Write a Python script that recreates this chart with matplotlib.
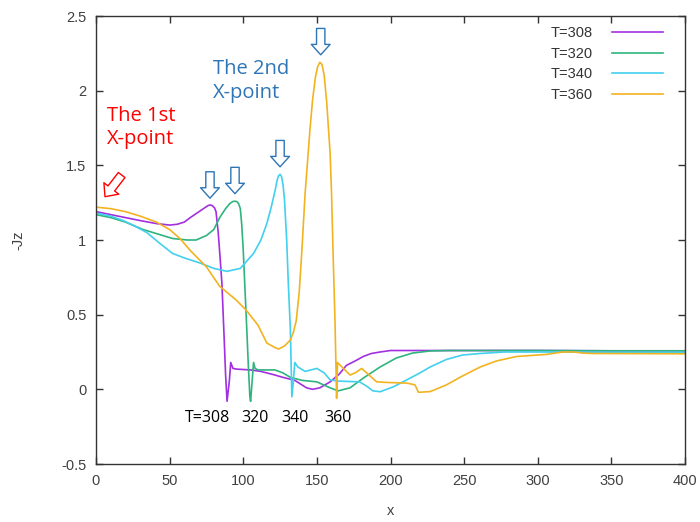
import matplotlib
matplotlib.use("Agg")
import matplotlib.pyplot as plt

# ---- data ----
x308 = [0, 10, 20, 30, 41, 50, 55, 60, 64, 70, 73, 76, 77.5, 79, 80.5, 81.5, 83, 84.5, 85.5, 87, 88, 89, 90.5, 91.5, 93, 96, 105, 112, 120, 127, 135, 143, 147, 152, 159, 165, 170, 176, 181.5, 187, 193, 200, 250, 300, 350, 400]
y308 = [1.19, 1.17, 1.15, 1.13, 1.11, 1.10, 1.105, 1.12, 1.15, 1.19, 1.21, 1.23, 1.235, 1.23, 1.215, 1.19, 1.05, 0.85, 0.71, 0.35, 0.1, -0.08, 0.05, 0.18, 0.14, 0.135, 0.13, 0.12, 0.10, 0.08, 0.06, 0.01, 0.0, 0.01, 0.05, 0.1, 0.16, 0.19, 0.22, 0.24, 0.25, 0.26, 0.26, 0.26, 0.258, 0.258]

x320 = [0, 10, 20, 32, 42, 52, 62, 68, 75, 80, 84, 88, 91, 93, 94.5, 96, 97, 98, 99, 100, 101.5, 102.5, 103.5, 104.5, 105, 106, 107, 108, 110, 115, 121.5, 127, 132, 140, 150, 159, 164.5, 172.5, 181.5, 193, 204, 215, 227, 240, 300, 350, 400]
y320 = [1.17, 1.15, 1.12, 1.07, 1.04, 1.01, 1.0, 1.0, 1.03, 1.07, 1.15, 1.21, 1.245, 1.258, 1.26, 1.255, 1.24, 1.21, 1.1, 0.93, 0.6, 0.38, 0.15, -0.05, -0.08, 0.05, 0.18, 0.14, 0.13, 0.13, 0.13, 0.11, 0.08, 0.06, 0.05, 0.01, -0.01, 0.01, 0.075, 0.15, 0.21, 0.243, 0.257, 0.26, 0.26, 0.258, 0.258]

x340 = [0, 10, 18.5, 27, 34.5, 43, 52, 60, 70.6, 80, 89, 98, 107, 112, 116, 119, 121.6, 123, 124, 125, 126, 127, 128, 129.5, 130.6, 132, 133, 134, 135, 137, 142, 146, 150, 155, 159, 165, 179, 184, 188, 193, 202, 211, 220, 227, 238, 249, 261, 277, 300, 350, 400]
y340 = [1.18, 1.16, 1.13, 1.09, 1.05, 0.98, 0.91, 0.88, 0.846, 0.81, 0.79, 0.81, 0.91, 1.0, 1.11, 1.22, 1.33, 1.40, 1.43, 1.44, 1.425, 1.37, 1.27, 1.0, 0.71, 0.4, -0.05, 0.05, 0.18, 0.15, 0.12, 0.13, 0.14, 0.11, 0.063, 0.055, 0.05, 0.02, -0.01, -0.016, 0.017, 0.063, 0.11, 0.15, 0.2, 0.23, 0.24, 0.25, 0.25, 0.248, 0.248]

x360 = [0, 10, 20, 30, 41, 50, 57, 64, 75, 84, 95, 102, 110, 116, 121.5, 124, 128, 132, 134, 136, 138, 139.7, 142, 145.3, 147, 149, 150.5, 152, 153.5, 155, 156.7, 159, 160, 161, 162.3, 163.4, 164, 167, 172.5, 176, 180.4, 185, 190.6, 200, 211, 216.6, 219, 227, 238, 249, 261, 272, 285.7, 306, 317, 325, 330, 337.5, 400]
y360 = [1.22, 1.21, 1.19, 1.16, 1.12, 1.07, 1.01, 0.93, 0.82, 0.69, 0.60, 0.53, 0.43, 0.31, 0.28, 0.27, 0.29, 0.33, 0.38, 0.46, 0.65, 0.91, 1.31, 1.74, 1.93, 2.09, 2.16, 2.19, 2.175, 2.1, 1.92, 1.58, 1.3, 0.91, 0.46, -0.06, 0.18, 0.15, 0.096, 0.11, 0.14, 0.1, 0.05, 0.045, 0.042, 0.03, -0.02, -0.015, 0.03, 0.09, 0.15, 0.19, 0.22, 0.234, 0.25, 0.25, 0.243, 0.24, 0.238]

labels = ["T=308", "T=320", "T=340", "T=360"]
colors = ["#a22fe0", "#2fb47e", "#42d0ee", "#f2b321"]

xticks = [0, 50, 100, 150, 200, 250, 300, 350, 400]
yticks = [-0.5, 0, 0.5, 1, 1.5, 2, 2.5]

# annotation positions
arrow_tips = [(77.4, 1.28), (94.4, 1.31), (125, 1.49), (152.6, 2.24)]
bottom_labels = [("T=308", 75.5), ("320", 108), ("340", 135), ("360", 164.5)]

fig = plt.figure(figsize=(7.0, 5.22), dpi=100)
ax = fig.add_axes([96/700, 1-464/522, (685-96)/700, (464-16)/522])

series = [(x308, y308), (x320, y320), (x340, y340), (x360, y360)]
for (xs, ys), lab, c in zip(series, labels, colors):
    ax.plot(xs, ys, color=c, lw=1.2, label=lab)

ax.set_xlim(0, 400)
ax.set_ylim(-0.5, 2.5)
ax.set_xticks(xticks)
ax.set_yticks(yticks)
ax.set_xticklabels([f"{t:g}" for t in xticks])
ax.set_yticklabels([f"{t:g}" for t in yticks])
tickcol = "#404040"
ax.tick_params(direction="in", length=5, width=1, top=True, right=True,
               colors="#333333", labelcolor=tickcol, labelsize=10.5, pad=7)
for s in ax.spines.values():
    s.set_color("#333333")
    s.set_linewidth(1)
for lab in ax.get_xticklabels() + ax.get_yticklabels():
    lab.set_family("Liberation Sans")

ax.set_xlabel("x", color=tickcol, fontsize=10.5, family="Liberation Sans", labelpad=12)
ax.set_ylabel("-Jz", color=tickcol, fontsize=10.5, family="Liberation Sans", labelpad=26)

leg = ax.legend(loc="upper right", frameon=False, markerfirst=False,
                handlelength=3.5, handletextpad=1.3, labelspacing=0.45,
                prop={"family": "Liberation Sans", "size": 10.5},
                bbox_to_anchor=(0.98, 1.0), borderaxespad=0.3)
for t in leg.get_texts():
    t.set_color("#333333")

blue = "#2e75b6"
font_ann = "Open Sans"
ax.text(7.5, 1.9, "The 1st\nX-point", color="red", fontsize=14.5, family=font_ann,
        va="top", ha="left", linespacing=1.25)
ax.text(79.5, 2.21, "The 2nd\nX-point", color=blue, fontsize=14.5, family=font_ann,
        va="top", ha="left", linespacing=1.25)

for tip in arrow_tips:
    ax.annotate("", xy=tip, xytext=(0, 19), textcoords="offset points",
                arrowprops=dict(arrowstyle="simple,head_length=0.75,head_width=1.35,tail_width=0.6",
                                mutation_scale=10, fc="white", ec=blue, lw=1.0,
                                shrinkA=0, shrinkB=0))
ax.annotate("", xy=(6.1, 1.29), xytext=(12, 15.6), textcoords="offset points",
            arrowprops=dict(arrowstyle="simple,head_length=0.75,head_width=1.35,tail_width=0.6",
                            mutation_scale=10, fc="white", ec="red", lw=1.0,
                            shrinkA=0, shrinkB=0))

for txt, xv in bottom_labels:
    ax.text(xv, -0.195, txt, color="black", fontsize=11.5, family=font_ann,
            ha="center", va="center")

fig.savefig("out.png", dpi=100)
